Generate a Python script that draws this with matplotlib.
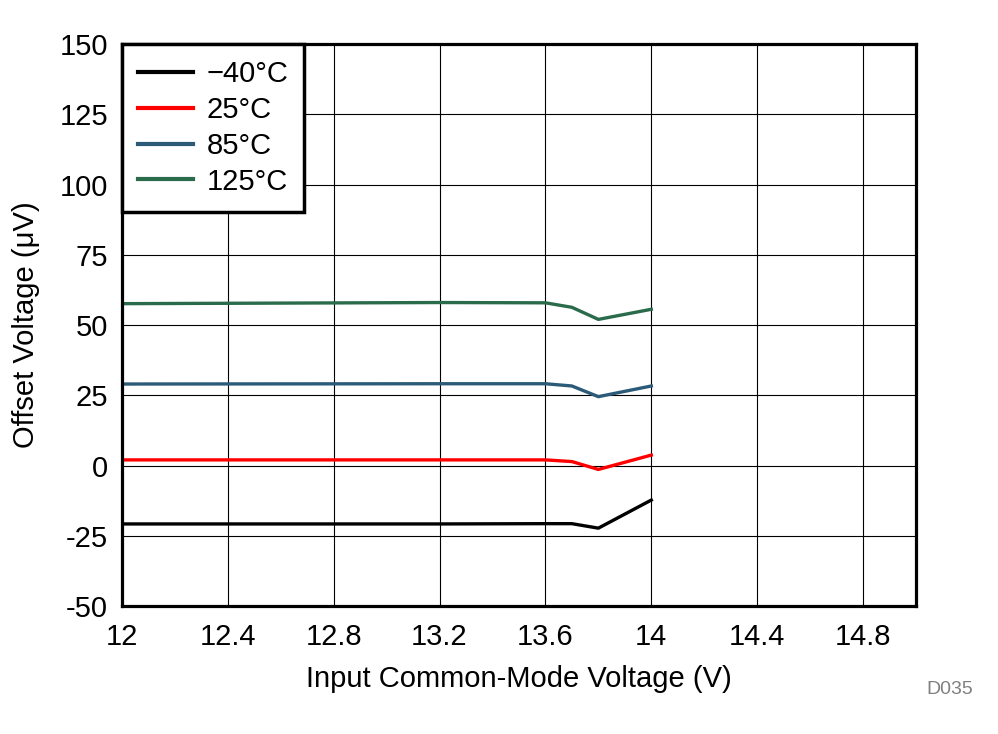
import matplotlib
matplotlib.use('Agg')
import matplotlib.pyplot as plt
import numpy as np

plt.rcParams['font.family'] = ['Liberation Sans', 'DejaVu Sans']

# input common-mode voltage (V)
vcm = [12.0, 13.2, 13.6, 13.7, 13.8, 14.0]

# offset voltage (uV) per temperature
vos_m40 = [-20.8, -20.8, -20.7, -20.7, -22.3, -12.3]
vos_25 = [2.0, 2.0, 2.0, 1.4, -1.4, 3.7]
vos_85 = [29.0, 29.1, 29.1, 28.3, 24.5, 28.3]
vos_125 = [57.6, 58.0, 57.9, 56.3, 52.0, 55.6]

labels = ['\u221240\u00b0C', '25\u00b0C', '85\u00b0C', '125\u00b0C']
colors = ['#000000', '#ff0000', '#2b5b78', '#2a6b4b']
ytick_labels = ['-50', '-25', '0', '25', '50', '75', '100', '125', '150']

fig = plt.figure(figsize=(9.98, 7.34), dpi=100)
ax = fig.add_axes([0.1222, 0.1744, 0.7956, 0.7656])

for y, lab, c in zip([vos_m40, vos_25, vos_85, vos_125], labels, colors):
    ax.plot(vcm, y, color=c, lw=2.4, label=lab)

ax.set_xlim(12, 15)
ax.set_ylim(-50, 150)
ax.set_xticks(np.arange(12, 15.0, 0.4))
ax.set_xticklabels(['12', '12.4', '12.8', '13.2', '13.6', '14', '14.4', '14.8'])
ax.set_yticks(np.arange(-50, 151, 25))
ax.set_yticklabels(ytick_labels)
ax.grid(True, color='black', lw=0.8)
ax.tick_params(length=0, labelsize=21)
ax.tick_params(axis='x', pad=12)
ax.tick_params(axis='y', pad=10)
for s in ax.spines.values():
    s.set_linewidth(2.3)

ax.set_xlabel('Input Common-Mode Voltage (V)', fontsize=21, labelpad=10)
ax.set_ylabel('Offset Voltage (\u03bcV)', fontsize=21, labelpad=14)

leg = ax.legend(loc='upper left', bbox_to_anchor=(0, 1), borderaxespad=0,
                fancybox=False, fontsize=21, handlelength=1.9,
                labelspacing=0.27, borderpad=0.55, handletextpad=0.45,
                framealpha=1)
leg.get_frame().set_edgecolor('black')
leg.get_frame().set_linewidth(2.5)
for h in leg.get_lines():
    h.set_linewidth(3)

fig.text(0.975, 0.055, 'D035', color='#808080', fontsize=14, ha='right')

fig.savefig('out.png', dpi=100)
